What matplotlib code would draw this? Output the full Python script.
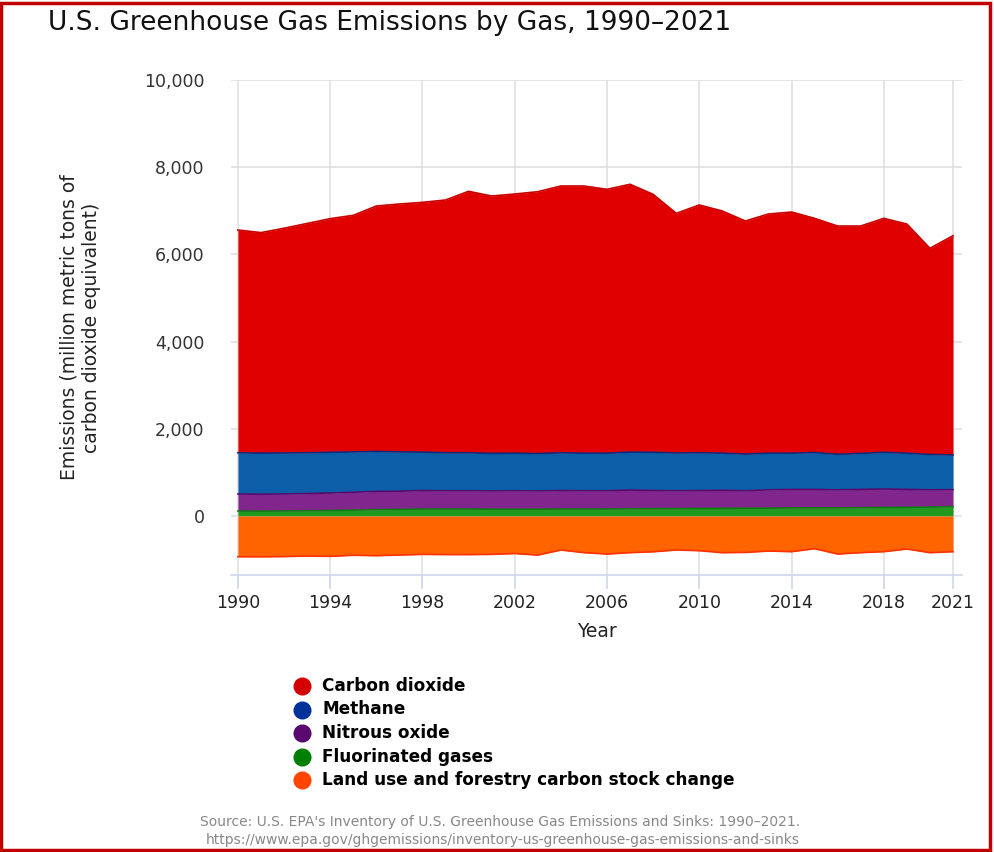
import numpy as np
import matplotlib.pyplot as plt
from matplotlib.patches import Rectangle
from matplotlib.lines import Line2D
from matplotlib.ticker import FuncFormatter

years = np.arange(1990, 2022)
# million metric tons CO2 equivalent
co2 = [5110, 5060, 5155, 5260, 5360, 5426, 5630, 5686, 5729, 5798, 5997, 5904,
       5945, 6008, 6119, 6129, 6053, 6143, 5918, 5497, 5683, 5555, 5346, 5487,
       5532, 5372, 5236, 5216, 5367, 5257, 4730, 5029]
methane = [945, 940, 940, 935, 932, 925, 915, 900, 880, 870, 870, 860,
           860, 855, 865, 860, 860, 870, 875, 865, 865, 850, 840, 840,
           830, 845, 815, 825, 840, 830, 810, 795]
nitrous = [390, 390, 390, 395, 403, 410, 420, 420, 425, 420, 420, 420,
           425, 420, 425, 420, 420, 430, 415, 410, 410, 415, 400, 420,
           425, 425, 415, 420, 425, 410, 395, 391]
fgases = [115, 110, 115, 120, 125, 135, 145, 150, 160, 160, 160, 155,
          155, 155, 160, 160, 160, 165, 170, 170, 175, 175, 180, 180,
          185, 185, 185, 190, 195, 200, 205, 214]
landuse = [-933, -935, -930, -918, -925, -900, -910, -895, -880, -885, -885, -880,
           -860, -896, -780, -840, -872, -840, -820, -780, -795, -841, -835, -803,
           -818, -749, -872, -840, -818, -757, -841, -818]

labels = ['Carbon dioxide', 'Methane', 'Nitrous oxide', 'Fluorinated gases',
          'Land use and forestry carbon stock change']
fills = ['#e00000', '#0b5fa8', '#80268c', '#1f9a1f', '#ff6400']
edges = ['#c80000', '#0a2d80', '#5a0a6e', '#137a13', '#ff3000']
markers = ['#d40000', '#003399', '#5a0a6e', '#008000', '#ff4500']

fig = plt.figure(figsize=(9.94, 8.52), dpi=100)
ax = fig.add_axes([231/994, 1-575/852, 731/994, 495/852])

# positive stack, bottom to top
stack = [fgases, nitrous, methane, co2]
sfill = [fills[3], fills[2], fills[1], fills[0]]
sedge = [edges[3], edges[2], edges[1], edges[0]]
base = np.zeros(len(years))
for vals, fc, ec in zip(stack, sfill, sedge):
    top = base + np.array(vals)
    ax.fill_between(years, base, top, color=fc, lw=0, zorder=2)
    ax.plot(years, top, color=ec, lw=1.2, zorder=3)
    base = top
ax.fill_between(years, 0, landuse, color=fills[4], lw=0, zorder=2)
ax.plot(years, landuse, color=edges[4], lw=1.2, zorder=3)

ax.set_xlim(1989.7, 2021.39)
ax.set_ylim(-1353, 10000)
ax.set_yticks(range(0, 10001, 2000))
ax.yaxis.set_major_formatter(FuncFormatter(lambda v, p: f'{int(v):,}'))
xt = [1990, 1994, 1998, 2002, 2006, 2010, 2014, 2018, 2021]
ax.set_xticks(xt)
ax.grid(True, color='#e0e0e0', lw=1.2, zorder=0)
for s in ['top', 'right', 'left']:
    ax.spines[s].set_visible(False)
ax.spines['bottom'].set_color('#ccd6eb')
ax.spines['bottom'].set_linewidth(1.2)
ax.tick_params(axis='x', colors='#ccd6eb', length=10, width=1.2, labelcolor='#222222',
               labelsize=12.5, pad=4)
ax.tick_params(axis='y', length=0, labelcolor='#333333', labelsize=12.5, pad=19)
ax.set_xlabel('Year', fontsize=13.5, color='#222222', labelpad=7)
ax.set_ylabel('Emissions (million metric tons of\ncarbon dioxide equivalent)',
              fontsize=13.5, color='#222222', labelpad=31, linespacing=1.25)

fig.text(48/994, 1-23/852, 'U.S. Greenhouse Gas Emissions by Gas, 1990\u20132021',
         fontsize=19, color='#111111', va='center', ha='left')

# legend
for i, (lab, mc) in enumerate(zip(labels, markers)):
    yy = 1 - (686 + i*23.5)/852
    fig.add_artist(Line2D([302/994], [yy], marker='o', markersize=13, color=mc,
                          markeredgewidth=0, linestyle='none', transform=fig.transFigure))
    fig.text(322/994, yy, lab, fontsize=12.2, fontweight='bold', color='black',
             ha='left', va='center')

fig.text(500/994, 1-822/852,
         "Source: U.S. EPA's Inventory of U.S. Greenhouse Gas Emissions and Sinks: 1990\u20132021.",
         fontsize=10, color='#888888', ha='center', va='center')
fig.text(503/994, 1-840/852,
         'https://www.epa.gov/ghgemissions/inventory-us-greenhouse-gas-emissions-and-sinks',
         fontsize=10, color='#888888', ha='center', va='center')

fig.patches.append(Rectangle((0.0015, 0.002), 0.994, 0.995, transform=fig.transFigure,
                             fill=False, edgecolor='#c00000', lw=2.5))

fig.savefig('out.png', dpi=100)
